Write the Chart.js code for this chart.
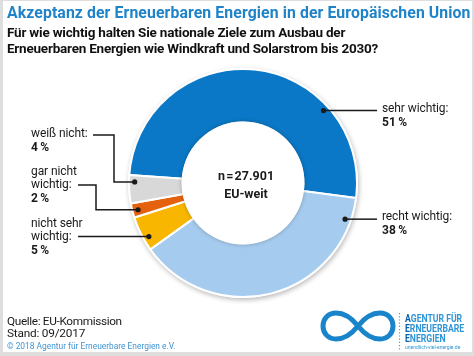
<!DOCTYPE html>
<html><head><meta charset="utf-8">
<script src="https://cdn.jsdelivr.net/npm/chart.js@4.4.1/dist/chart.umd.min.js"></script>
<style>
html,body{margin:0;padding:0;}
body{width:474px;height:356px;position:relative;overflow:hidden;background:#fff;font-family:Roboto,"Open Sans",sans-serif;color:#1a1a1a;}
#frame{position:absolute;left:0;top:0;width:474px;height:356px;box-sizing:border-box;border:3px solid #dedede;border-top-width:1px;border-right-width:2px;border-bottom-width:4px;pointer-events:none;}
canvas{position:absolute;left:0;top:0;}
.t{position:absolute;white-space:nowrap;line-height:1;transform-origin:0 50%;}
svg{position:absolute;left:0;top:0;}
</style></head><body>
<canvas id="c" width="474" height="356"></canvas>
<svg width="474" height="356" viewBox="0 0 474 356">
  <path d="M358,326 C366,316 374,313 380,313 C388,313 393,319 393,326 C393,333 388,339 380,339 C374,339 366,336 358,326 C350,316 342,313 336,313 C328,313 323,319 323,326 C323,333 328,339 336,339 C342,339 350,336 358,326 Z" fill="none" stroke="#1a84cb" stroke-width="5"/>
  <line x1="399.5" y1="313" x2="399.5" y2="351" stroke="#4a9ad6" stroke-width="1.2" stroke-dasharray="1.2 2"/>
</svg>
<div id="frame"></div>
<div id="texts"></div>
<script>
// ---- data ----
const categories = ['sehr wichtig', 'recht wichtig', 'nicht sehr\nwichtig', 'gar nicht\nwichtig', 'weiß nicht'];
const values = [51, 38, 5, 2, 4];
const colors = ['#0a78c6', '#a5cbee', '#f9b600', '#e4620e', '#d8d8d8'];
const sampleSize = '27.901';
const region = 'EU-weit';

// ---- layout of labels (x, baseline of first line, line gap) ----
const labelLayout = [
  {x:382, y:112, gap:14, dot:0.73, path:[[377,null]]},
  {x:382, y:220, gap:14, dot:0.087, path:[[377,null]]},
  {x:31,  y:227, gap:13.5, dot:0.33, path:[[78,null]]},
  {x:31,  y:175, gap:13.5, dot:0.46, path:[[96,null],[96,185],[78,185]]},
  {x:31,  y:137, gap:14, dot:0.76, path:[[114,null],[114,135],[93,135]]}
];

const texts = document.getElementById('texts');
function addText(str, x, baseline, size, opts) {
  opts = opts || {};
  const d = document.createElement('div');
  d.className = 't';
  d.textContent = str;
  d.style.fontSize = size + 'px';
  d.style.fontWeight = opts.bold ? '700' : '400';
  if (opts.color) d.style.color = opts.color;
  if (opts.ls) d.style.letterSpacing = opts.ls + 'px';
  if (opts.sx) d.style.transform = 'scaleX(' + opts.sx + ')';
  d.style.top = (baseline - 0.842 * size) + 'px';
  if (opts.center) { d.style.left = (x - 100) + 'px'; d.style.width = '200px'; d.style.textAlign = 'center'; }
  else d.style.left = x + 'px';
  texts.appendChild(d);
  return d;
}

// titles
addText('Akzeptanz der Erneuerbaren Energien in der Europäischen Union', 7, 18, 15.8, {bold:true, color:'#1f83c9', ls:0.1});
addText('Für wie wichtig halten Sie nationale Ziele zum Ausbau der', 7, 37, 13.5, {bold:true, color:'#111', ls:-0.2});
addText('Erneuerbaren Energien wie Windkraft und Solarstrom bis 2030?', 7, 53, 13.5, {bold:true, color:'#111', ls:-0.22});

// segment labels
categories.forEach((c, i) => {
  const L = labelLayout[i];
  const lines = c.split('\n');
  lines.forEach((ln, k) => {
    addText(ln + (k === lines.length - 1 ? ':' : ''), L.x, L.y + k * L.gap, 12, {ls:-0.1});
  });
  addText(values[i] + '\u2009%', L.x, L.y + lines.length * L.gap, 12, {bold:true});
});

// center
addText('n\u200a=\u200a' + sampleSize, 246, 181, 12.5, {bold:true, center:true});
addText(region, 246, 199, 12.5, {bold:true, center:true});

// footer
addText('Quelle: EU-Kommission', 7, 326, 11.8, {ls:-0.35});
addText('Stand: 09/2017', 7, 338, 11.8, {ls:-0.2});
addText('© 2018 Agentur für Erneuerbare Energien e.V.', 7, 349, 8.4, {color:'#3f94d3'});

// logo text
function logoLine(first, rest, baseline) {
  const d = addText('', 405, baseline, 10.8, {bold:true, sx:0.8});
  const a = document.createElement('span'); a.textContent = first; a.style.color = '#0a5fa8';
  const b = document.createElement('span'); b.textContent = rest; b.style.color = '#2f95d6';
  d.appendChild(a); d.appendChild(b);
}
logoLine('A', 'GENTUR FÜR', 323);
logoLine('E', 'RNEUERBARE', 333);
logoLine('E', 'NERGIEN', 343);
addText('unendlich-viel-energie.de', 405, 350, 5.6, {color:'#2f95d6', sx:0.9});

// ---- chart ----
const deco = {
  id: 'deco',
  beforeDatasetsDraw(chart) {
    const arc = chart.getDatasetMeta(0).data[0];
    const ctx = chart.ctx;
    ctx.save();
    ctx.shadowColor = 'rgba(0,0,0,0.28)';
    ctx.shadowBlur = 5;
    ctx.shadowOffsetX = 1;
    ctx.shadowOffsetY = 2;
    ctx.fillStyle = '#fff';
    ctx.beginPath();
    ctx.arc(arc.x, arc.y, arc.outerRadius + 1, 0, Math.PI * 2);
    ctx.fill();
    ctx.restore();
  },
  afterDatasetsDraw(chart) {
    const meta = chart.getDatasetMeta(0);
    const a0 = meta.data[0];
    const ctx = chart.ctx;
    // inner disc
    ctx.save();
    ctx.shadowColor = 'rgba(0,0,0,0.25)';
    ctx.shadowBlur = 4;
    ctx.fillStyle = '#fff';
    ctx.beginPath();
    ctx.arc(a0.x, a0.y, a0.innerRadius + 1, 0, Math.PI * 2);
    ctx.fill();
    ctx.restore();
    // leader lines
    ctx.save();
    ctx.strokeStyle = '#1a1a1a';
    ctx.fillStyle = '#1a1a1a';
    ctx.lineWidth = 1.5;
    meta.data.forEach((el, i) => {
      const L = labelLayout[i];
      const ang = el.startAngle + L.dot * (el.endAngle - el.startAngle);
      const r = el.outerRadius * 0.95;
      const px = el.x + r * Math.cos(ang);
      const py = el.y + r * Math.sin(ang);
      ctx.beginPath();
      ctx.moveTo(px, py);
      let cx = px, cy = py;
      L.path.forEach(p => {
        cx = p[0] === null ? cx : p[0];
        cy = p[1] === null ? cy : p[1];
        ctx.lineTo(cx, cy);
      });
      ctx.stroke();
      ctx.beginPath();
      ctx.arc(px, py, 2.6, 0, Math.PI * 2);
      ctx.fill();
    });
    ctx.restore();
  }
};

new Chart(document.getElementById('c'), {
  type: 'doughnut',
  data: {
    labels: categories,
    datasets: [{
      data: values,
      backgroundColor: colors,
      borderColor: '#ffffff',
      borderWidth: 2
    }]
  },
  options: {
    responsive: false,
    animation: false,
    rotation: -86,
    cutout: '53%',
    layout: { padding: { left: 128, top: 68, right: 116, bottom: 58 } },
    plugins: { legend: { display: false }, tooltip: { enabled: false } }
  },
  plugins: [deco]
});
</script>
</body></html>
